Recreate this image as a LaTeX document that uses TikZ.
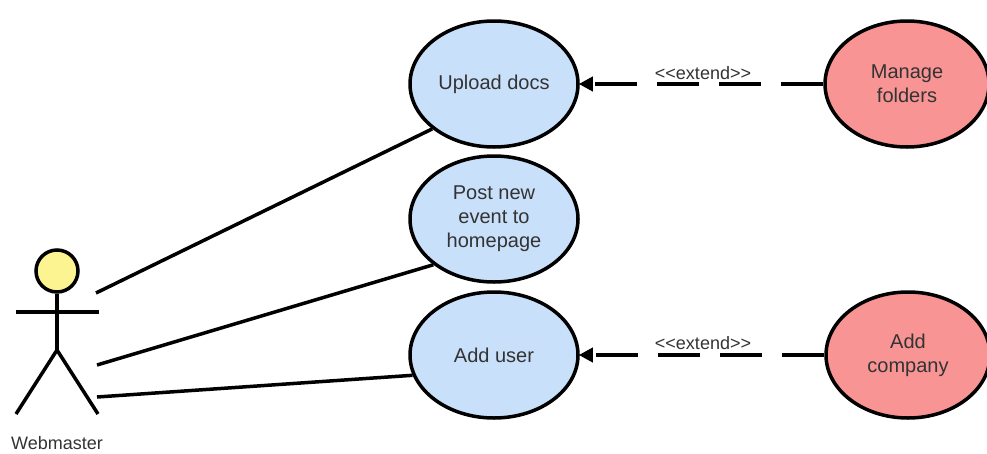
\documentclass[tikz,border=0pt]{standalone}
\usepackage{fontspec}
\setmainfont{Liberation Sans}[Ligatures=NoCommon]
\usetikzlibrary{arrows.meta,shapes.geometric}
\definecolor{ucblue}{HTML}{C9E0FA}
\definecolor{ucred}{HTML}{F99494}
\definecolor{ucyellow}{HTML}{FCF490}
\definecolor{uctext}{HTML}{333333}
\tikzset{
  usecase/.style={ellipse, draw=black, line width=3.5pt, inner sep=0pt,
    minimum width=168pt, minimum height=126pt, align=center,
    text=uctext, font=\fontsize{20}{24}\selectfont},
  bluecase/.style={usecase, fill=ucblue},
  redcase/.style={usecase, fill=ucred, minimum width=164pt},
  assoc/.style={draw=black, line width=3.5pt},
  extendline/.style={draw=black, line width=3.5pt, dash pattern=on 42pt off 20pt,
    -{Triangle[length=14pt,width=14pt]}, shorten >=-1pt},
  extlabel/.style={text=uctext, font=\fontsize{18}{20}\selectfont, inner sep=0pt},
  actorline/.style={draw=black, line width=3.5pt},
}
\begin{document}
\begin{tikzpicture}[x=1pt,y=-1pt]
\useasboundingbox (0,0) rectangle (987,453);
% use cases
\node[bluecase] (up) at (494,84) {Upload docs};
\node[bluecase] (post) at (494,219) {Post new\\event to\\homepage};
\node[bluecase] (add) at (494,355) {Add user};
\node[redcase] (man) at (907,84) {Manage\\folders};
\node[redcase] (comp) at (908,355) {Add\\company};
% actor
\node[circle, draw=black, line width=3.5pt, fill=ucyellow, minimum size=42pt, inner sep=0pt] (head) at (57,271) {};
\coordinate (hip) at (57,350);
\coordinate (larm) at (16,312);
\coordinate (rarm) at (99,312);
\coordinate (lfoot) at (16,414);
\coordinate (rfoot) at (98,414);
\draw[actorline] (head.south) -- (hip);
\draw[actorline] (larm) -- (rarm);
\draw[actorline] (lfoot) -- (hip) -- (rfoot);
\node[text=uctext, font=\fontsize{18}{20}\selectfont, inner sep=0pt] (wm) at (57,443) {Webmaster};
% associations
\coordinate (a1) at (96,293);
\coordinate (a2) at (97,365);
\coordinate (a3) at (97,397);
\draw[assoc] (a1) -- (up.216);
\draw[assoc] (a2) -- (post.217);
\draw[assoc] (a3) -- (add.194);
% extends
\draw[extendline] (man) -- (up);
\draw[extendline] (comp) -- (add);
\node[extlabel] (l1) at (703,73) {{<}{<}extend{>}{>}};
\node[extlabel] (l2) at (703,343) {{<}{<}extend{>}{>}};
\end{tikzpicture}
\end{document}
